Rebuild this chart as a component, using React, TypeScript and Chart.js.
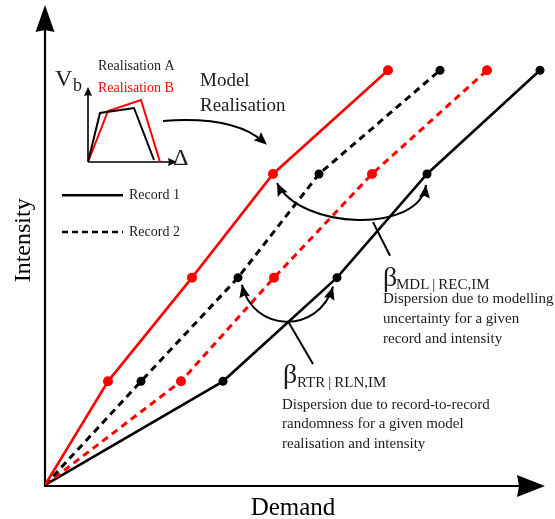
import React, { useEffect, useRef } from "react";
import { Chart, registerables } from "chart.js";

Chart.register(...registerables);

// Intensity levels shared by every demand curve
const intensity = [0, 1, 2, 3, 4];
// Demand reached at each intensity level, per model realisation and record
const demandRealB_Rec1 = [0, 0.63, 1.47, 2.28, 3.43];
const demandRealA_Rec2 = [0, 0.96, 1.93, 2.74, 3.95];
const demandRealB_Rec2 = [0, 1.36, 2.29, 3.27, 4.42];
const demandRealA_Rec1 = [0, 1.78, 2.92, 3.82, 4.95];

// Inset pushover curves: displacement (Δ) and base shear (Vb)
const insetDispA = [0, 1.2, 4.6, 6.6];
const insetShearA = [0, 4.9, 5.4, 0.2];
const insetDispB = [0, 2.0, 5.3, 7.2];
const insetShearB = [0, 5.1, 6.2, 0];

const RED = "#ff0000";
const BLACK = "#000000";
const TEXT = "#1c1c1c";
const SERIF = "'Liberation Serif', 'Times New Roman', serif";
const THIN = "\u2009";

const xy = (xs: number[], ys: number[]) => xs.map((x, i) => ({ x, y: ys[i] }));
const markers = (n: number, r: number) => Array.from({ length: n }, (_, i) => (i === 0 ? 0 : r));

function arrowHead(
  ctx: CanvasRenderingContext2D,
  tipX: number,
  tipY: number,
  angle: number,
  len: number,
  half: number,
  notch = 0
) {
  ctx.save();
  ctx.translate(tipX, tipY);
  ctx.rotate(angle);
  ctx.beginPath();
  ctx.moveTo(0, 0);
  ctx.lineTo(-len, -half);
  ctx.lineTo(-len + notch, 0);
  ctx.lineTo(-len, half);
  ctx.closePath();
  ctx.fill();
  ctx.restore();
}

// Axes with arrow heads, legend, callouts and explanatory notes
const diagramPlugin = {
  id: "diagram",
  beforeDatasetsDraw(chart: any) {
    const { ctx, chartArea: a } = chart;
    const x0 = chart.scales.x.getPixelForValue(0);
    const y0 = chart.scales.y.getPixelForValue(0);
    ctx.save();
    ctx.strokeStyle = BLACK;
    ctx.fillStyle = BLACK;
    ctx.lineWidth = 2.2;
    ctx.beginPath();
    ctx.moveTo(x0, y0 + 1);
    ctx.lineTo(x0, a.top + 20);
    ctx.stroke();
    arrowHead(ctx, x0, a.top, -Math.PI / 2, 27, 9.5, 2);
    ctx.beginPath();
    ctx.moveTo(x0 - 1, y0 + 1);
    ctx.lineTo(a.right - 20, y0 + 1);
    ctx.stroke();
    arrowHead(ctx, a.right, y0 + 1, 0, 28, 11, 2);

    // axis titles
    ctx.font = `25px ${SERIF}`;
    ctx.textAlign = "center";
    ctx.textBaseline = "alphabetic";
    ctx.fillText("Demand", chart.scales.x.getPixelForValue(2.48), 515);
    ctx.save();
    ctx.translate(30, chart.scales.y.getPixelForValue(2.36));
    ctx.rotate(-Math.PI / 2);
    ctx.font = `24px ${SERIF}`;
    ctx.fillText("Intensity", 0, 0);
    ctx.restore();
    ctx.restore();
  },
  afterDatasetsDraw(chart: any) {
    const { ctx } = chart;
    const sx = chart.scales.x;
    const sy = chart.scales.y;
    const P = (x: number, y: number): [number, number] => [sx.getPixelForValue(x), sy.getPixelForValue(y)];
    ctx.save();
    ctx.strokeStyle = BLACK;
    ctx.fillStyle = BLACK;
    ctx.lineCap = "butt";

    // "Model Realisation" label and its curved pointer
    ctx.fillStyle = TEXT;
    ctx.font = `19px ${SERIF}`;
    ctx.textAlign = "left";
    ctx.fillText("Model", ...P(1.55, 3.847));
    ctx.fillText("Realisation", ...P(1.55, 3.608));
    ctx.fillStyle = BLACK;
    {
      const [ax, ay] = P(1.18, 3.512);
      const [cx, cy] = P(1.9, 3.56);
      const [ex, ey] = P(2.22, 3.282);
      ctx.lineWidth = 2;
      ctx.beginPath();
      ctx.moveTo(ax, ay);
      ctx.quadraticCurveTo(cx, cy, ex - 4, ey - 3);
      ctx.stroke();
      arrowHead(ctx, ex, ey, Math.atan2(ey - cy, ex - cx), 13, 5.5, 2);
    }

    // legend for records
    {
      const [l1x, l1y] = P(0.17, 2.794);
      const [l1e] = P(0.78, 2.794);
      ctx.lineWidth = 2.5;
      ctx.beginPath();
      ctx.moveTo(l1x, l1y);
      ctx.lineTo(l1e, l1y);
      ctx.stroke();
      const [, l2y] = P(0.17, 2.44);
      ctx.setLineDash([6, 4]);
      ctx.beginPath();
      ctx.moveTo(l1x, l2y);
      ctx.lineTo(l1e, l2y);
      ctx.stroke();
      ctx.setLineDash([]);
      ctx.fillStyle = TEXT;
      ctx.font = `14px ${SERIF}`;
      ctx.textBaseline = "middle";
      const [tx] = P(0.84, 0);
      ctx.fillText("Record 1", tx, l1y);
      ctx.fillText("Record 2", tx, l2y);
      ctx.textBaseline = "alphabetic";
      ctx.fillStyle = BLACK;
    }

    // double-headed dispersion arcs between curve points
    const arc = (
      from: [number, number],
      to: [number, number],
      fromOff: [number, number],
      toOff: [number, number],
      c1: [number, number],
      c2: [number, number]
    ) => {
      const s: [number, number] = [from[0] + fromOff[0], from[1] + fromOff[1]];
      const e: [number, number] = [to[0] + toOff[0], to[1] + toOff[1]];
      const p1: [number, number] = [s[0] + c1[0], s[1] + c1[1]];
      const p2: [number, number] = [e[0] + c2[0], e[1] + c2[1]];
      ctx.lineWidth = 2;
      ctx.beginPath();
      ctx.moveTo(s[0], s[1]);
      ctx.bezierCurveTo(p1[0], p1[1], p2[0], p2[1], e[0], e[1]);
      ctx.stroke();
      arrowHead(ctx, s[0], s[1], Math.atan2(s[1] - p1[1], s[0] - p1[0]), 13, 5.5, 2);
      arrowHead(ctx, e[0], e[1], Math.atan2(e[1] - p2[1], e[0] - p2[0]), 13, 5.5, 2);
    };
    arc(
      P(demandRealB_Rec1[3], intensity[3]),
      P(demandRealA_Rec1[3], intensity[3]),
      [4, 9],
      [-1, 11],
      [23, 47],
      [-6, 49]
    );
    arc(
      P(demandRealA_Rec2[2], intensity[2]),
      P(demandRealA_Rec1[2], intensity[2]),
      [4, 7],
      [-4, 9],
      [10, 47],
      [-15, 49]
    );

    // leader lines
    const leader = (a: [number, number], b: [number, number]) => {
      ctx.lineWidth = 2;
      ctx.beginPath();
      ctx.moveTo(a[0], a[1]);
      ctx.lineTo(b[0], b[1]);
      ctx.stroke();
    };
    leader(P(3.28, 2.536), P(3.45, 2.211));
    leader(P(2.43, 1.579), P(2.68, 1.167));

    // beta labels with notes
    const beta = (
      at: [number, number],
      sub: string,
      subAt: [number, number],
      lines: string[],
      lineAt: [number, number],
      gap: number
    ) => {
      ctx.fillStyle = TEXT;
      ctx.textAlign = "left";
      ctx.font = `28px ${SERIF}`;
      ctx.fillText("β", at[0], at[1]);
      ctx.font = `15px ${SERIF}`;
      ctx.fillText(sub, subAt[0], subAt[1]);
      lines.forEach((t, i) => ctx.fillText(t, lineAt[0], lineAt[1] + i * gap));
    };
    beta(
      P(3.38, 1.923),
      `MDL${THIN}|${THIN}REC,IM`,
      P(3.51, 1.89),
      ["Dispersion due to modelling", "uncertainty for a given", "record and intensity"],
      P(3.38, 1.751),
      20
    );
    beta(
      P(2.38, 0.986),
      `RTR${THIN}|${THIN}RLN,IM`,
      P(2.52, 0.948),
      ["Dispersion due to record-to-record", "randomness for a given model", "realisation and intensity"],
      P(2.37, 0.737),
      19.5
    );
    ctx.restore();
  },
};

// Small pushover-curve inset: axes arrows and labels
const insetPlugin = {
  id: "insetAxes",
  beforeDatasetsDraw(chart: any) {
    const { ctx, chartArea: a } = chart;
    const sx = chart.scales.x;
    const sy = chart.scales.y;
    const P = (x: number, y: number): [number, number] => [sx.getPixelForValue(x), sy.getPixelForValue(y)];
    const [ox, oy] = P(0, 0);
    ctx.save();
    ctx.strokeStyle = BLACK;
    ctx.fillStyle = BLACK;
    ctx.lineWidth = 1.6;
    ctx.beginPath();
    ctx.moveTo(ox, oy);
    ctx.lineTo(ox, a.top + 6);
    ctx.moveTo(ox, oy);
    ctx.lineTo(a.right - 6, oy);
    ctx.stroke();
    arrowHead(ctx, ox, a.top, -Math.PI / 2, 9, 4, 1);
    arrowHead(ctx, a.right, oy, 0, 9, 4, 1);

    ctx.fillStyle = TEXT;
    ctx.textAlign = "left";
    ctx.font = `24px ${SERIF}`;
    ctx.fillText("V", ...P(-3.3, 7.6));
    ctx.font = `18px ${SERIF}`;
    ctx.fillText("b", ...P(-1.5, 7.1));
    ctx.font = `14px ${SERIF}`;
    ctx.fillText("Realisation A", ...P(1.0, 9.2));
    ctx.fillStyle = RED;
    ctx.fillText("Realisation B", ...P(1.0, 7.0));
    ctx.fillStyle = TEXT;
    ctx.font = `24px ${SERIF}`;
    ctx.fillText("Δ", ...P(8.5, -0.3));
    ctx.restore();
  },
};

export default function App() {
  const mainRef = useRef<HTMLCanvasElement>(null);
  const insetRef = useRef<HTMLCanvasElement>(null);

  useEffect(() => {
    const solid = (label: string, xs: number[], color: string, r: number) => ({
      label,
      data: xy(xs, intensity),
      showLine: true,
      borderColor: color,
      backgroundColor: color,
      borderWidth: 2.6,
      pointRadius: markers(xs.length, r),
      pointBorderWidth: 0,
      pointHoverRadius: 0,
    });
    const dashed = (label: string, xs: number[], color: string, r: number) => ({
      ...solid(label, xs, color, r),
      borderWidth: 3,
      borderDash: [7, 5],
    });

    const main = new Chart(mainRef.current!, {
      type: "scatter",
      data: {
        datasets: [
          solid("Realisation B – Record 1", demandRealB_Rec1, RED, 5),
          dashed("Realisation A – Record 2", demandRealA_Rec2, BLACK, 4.5),
          dashed("Realisation B – Record 2", demandRealB_Rec2, RED, 5),
          solid("Realisation A – Record 1", demandRealA_Rec1, BLACK, 4.5),
        ],
      } as any,
      options: {
        responsive: false,
        animation: false,
        events: [],
        layout: { padding: { left: 45, right: 10, top: 1, bottom: 34 } },
        scales: {
          x: { type: "linear", min: 0, max: 5, display: false },
          y: { type: "linear", min: 0, max: 4.63, display: false },
        },
        plugins: { legend: { display: false }, tooltip: { enabled: false } },
      },
      plugins: [diagramPlugin],
    });

    const inset = new Chart(insetRef.current!, {
      type: "scatter",
      data: {
        datasets: [
          {
            label: "Realisation A",
            data: xy(insetDispA, insetShearA),
            showLine: true,
            borderColor: BLACK,
            borderWidth: 2,
            pointRadius: 0,
          },
          {
            label: "Realisation B",
            data: xy(insetDispB, insetShearB),
            showLine: true,
            borderColor: RED,
            borderWidth: 2,
            pointRadius: 0,
          },
        ],
      } as any,
      options: {
        responsive: false,
        animation: false,
        events: [],
        layout: { padding: { left: 38, right: 18, top: 32, bottom: 8 } },
        scales: {
          x: { type: "linear", min: 0, max: 8.9, display: false },
          y: { type: "linear", min: 0, max: 7.5, display: false },
        },
        plugins: { legend: { display: false }, tooltip: { enabled: false } },
      },
      plugins: [insetPlugin],
    });

    return () => {
      main.destroy();
      inset.destroy();
    };
  }, []);

  return (
    <div style={{ position: "fixed", left: 0, top: 0, width: 555, height: 519, background: "#ffffff" }}>
      <canvas ref={mainRef} width={555} height={519} style={{ position: "absolute", left: 0, top: 0 }} />
      <canvas ref={insetRef} width={145} height={115} style={{ position: "absolute", left: 50, top: 55 }} />
    </div>
  );
}
